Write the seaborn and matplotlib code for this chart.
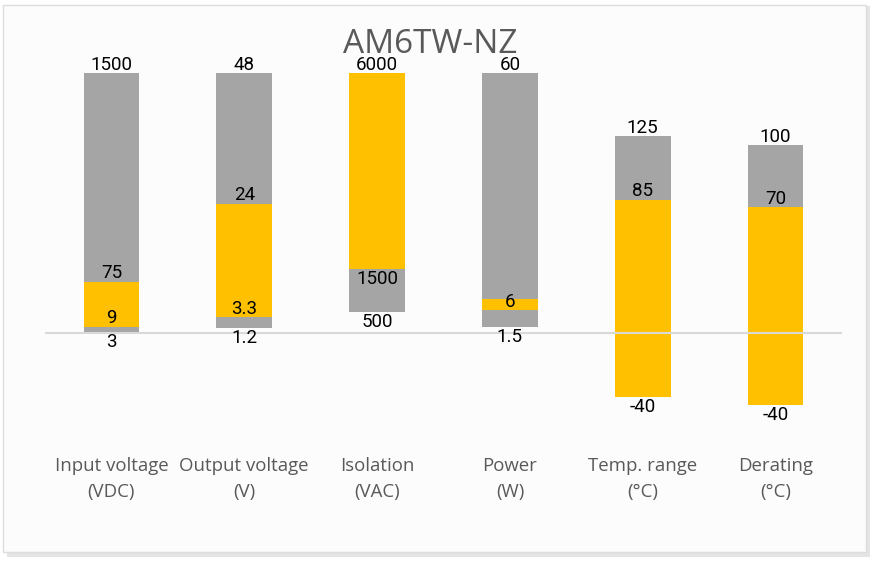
import matplotlib
matplotlib.use("Agg")
import matplotlib.pyplot as plt
import seaborn as sns
import pandas as pd
from matplotlib.patches import Rectangle

# === Data ===
categories = ["Input voltage\n(VDC)", "Output voltage\n(V)", "Isolation\n(VAC)",
              "Power\n(W)", "Temp. range\n(°C)", "Derating\n(°C)"]

# segment boundaries (bottom -> top) on the chart's normalised scale
input_bounds = [0.5, 2.5, 19.8, 100]
output_bounds = [2.2, 6.3, 49.8, 100]
isolation_bounds = [8.3, 24.7, 100]
power_bounds = [2.5, 9.0, 13.2, 100]
temp_bounds = [-24.4, 51.3, 75.8]
derating_bounds = [-27.4, 48.5, 72.3]
bounds = [input_bounds, output_bounds, isolation_bounds,
          power_bounds, temp_bounds, derating_bounds]

# segment colours, bottom -> top
seg_colors = [["gray", "yellow", "gray"],
              ["gray", "yellow", "gray"],
              ["gray", "yellow"],
              ["gray", "yellow", "gray"],
              ["yellow", "gray"],
              ["yellow", "gray"]]

# value labels and the boundary each one is attached to
label_text = [["3", "9", "75", "1500"],
              ["1.2", "3.3", "24", "48"],
              ["500", "1500", "6000"],
              ["1.5", "6", "60"],
              ["-40", "85", "125"],
              ["-40", "70", "100"]]
label_at = [[0, 1, 2, 3], [0, 1, 2, 3], [0, 1, 2], [0, 1, 3], [0, 1, 2], [0, 1, 2]]
label_side = [["below", "above", "above", "above"],
              ["below", "above", "above", "above"],
              ["below", "below", "above"],
              ["below", "above", "above"],
              ["below", "above", "above"],
              ["below", "above", "above"]]

palette = {"gray": "#A5A5A5", "yellow": "#FFC000"}

# === Figure ===
W, H = 874, 561
fig = plt.figure(figsize=(W / 100, H / 100), dpi=100)
fig.patch.set_facecolor("white")

# card background with a soft shadow
fig.patches.append(Rectangle((7 / W, 1 - 557 / H), 863 / W, 551 / H, transform=fig.transFigure,
                             facecolor="#E4E4E4", edgecolor="none", zorder=-2))
fig.patches.append(Rectangle((3 / W, 1 - 552 / H), 863 / W, 547 / H, transform=fig.transFigure,
                             facecolor="#FCFCFC", edgecolor="#DDDDDD", lw=1, zorder=-1))

ax = fig.add_axes([45 / W, 1 - 440 / H, 797 / W, 380 / H])
ax.set_facecolor("none")

rows = []
for cat, b, cols in zip(categories, bounds, seg_colors):
    for lo, hi, c in zip(b[:-1], b[1:], cols):
        rows.append(dict(category=cat, bottom=lo, height=hi - lo, color=c))
seg_df = pd.DataFrame(rows)

for _, r in seg_df.iterrows():
    sns.barplot(x=[r["category"]], y=[r["height"]], order=categories, bottom=r["bottom"],
                color=palette[r["color"]], saturation=1, width=0.42, errorbar=None,
                linewidth=0, ax=ax)

ax.axhline(0, color="#D9D9D9", lw=1.5, zorder=5)

for i, (b, texts, at, sides) in enumerate(zip(bounds, label_text, label_at, label_side)):
    for t, k, s in zip(texts, at, sides):
        ax.annotate(t, (i, b[k]), xytext=(0, -0.5 if s == "above" else -1), textcoords="offset points",
                    ha="center", va="bottom" if s == "above" else "top",
                    fontsize=13.5, family="Roboto", color="black", zorder=6)

ax.set_xlim(-0.5, len(categories) - 0.5)
ax.set_ylim(-41.0, 105.0)
ax.set_xticks(range(len(categories)))
ax.set_xticklabels(categories, fontsize=13.4, family="Open Sans", color="#595959", linespacing=1.55)
ax.tick_params(axis="x", length=0, pad=12.5)
ax.set_yticks([])
ax.set_xlabel("")
ax.set_ylabel("")
for sp in ax.spines.values():
    sp.set_visible(False)

fig.text(430 / W, 1 - 53.3 / H, "AM6TW-NZ", ha="center", va="baseline",
         fontsize=24, family="Open Sans", color="#595959")

fig.savefig("out.png", dpi=100)
